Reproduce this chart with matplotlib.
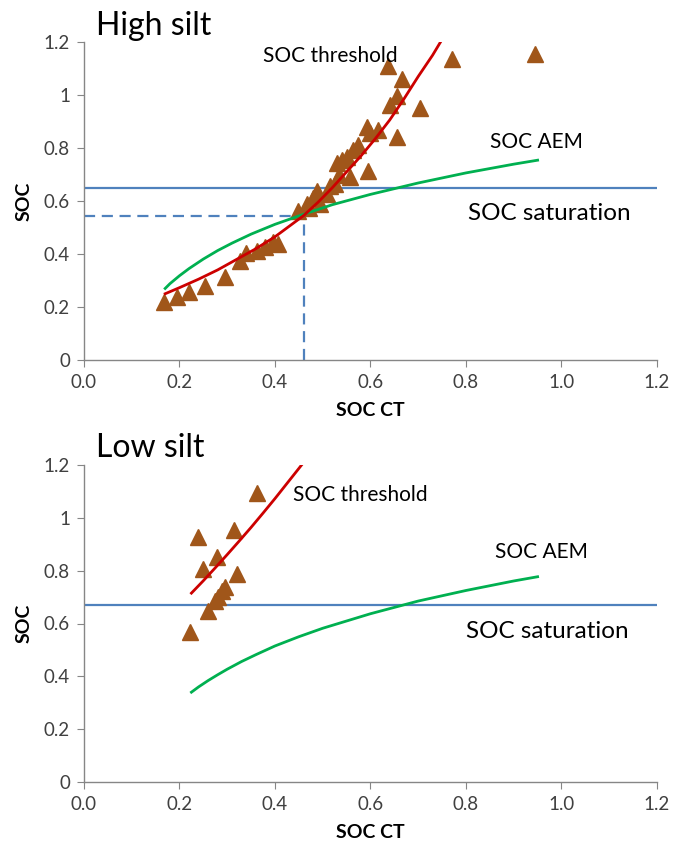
import matplotlib
matplotlib.use("Agg")
import matplotlib.pyplot as plt

plt.rcParams['font.family'] = ['Lato', 'DejaVu Sans']

# high silt data
hi_x = [0.168, 0.194, 0.22, 0.253, 0.295, 0.327, 0.34, 0.362, 0.379, 0.406, 0.396,
        0.448, 0.466, 0.48, 0.488, 0.494, 0.508, 0.526, 0.529, 0.54, 0.55, 0.557,
        0.564, 0.574, 0.592, 0.595, 0.599, 0.616, 0.655, 0.641, 0.655, 0.665,
        0.704, 0.637, 0.77, 0.944, 0.472, 0.515, 0.535]
hi_y = [0.218, 0.237, 0.256, 0.279, 0.314, 0.375, 0.403, 0.41, 0.428, 0.436, 0.447,
        0.562, 0.589, 0.612, 0.639, 0.589, 0.627, 0.665, 0.742, 0.753, 0.766, 0.69,
        0.792, 0.81, 0.88, 0.715, 0.856, 0.868, 0.842, 0.964, 0.995, 1.059,
        0.952, 1.11, 1.136, 1.155, 0.575, 0.655, 0.70]

hi_thr_x = [0.17, 0.20, 0.24, 0.28, 0.32, 0.36, 0.40, 0.43, 0.46, 0.49, 0.52, 0.55,
            0.58, 0.61, 0.64, 0.67, 0.70, 0.73, 0.75]
hi_thr_y = [0.25, 0.273, 0.305, 0.34, 0.38, 0.42, 0.465, 0.505, 0.545, 0.595, 0.65, 0.71,
            0.77, 0.835, 0.905, 0.985, 1.07, 1.15, 1.21]

hi_aem_x = [0.17, 0.18, 0.19, 0.20, 0.22, 0.25, 0.28, 0.31, 0.35, 0.40, 0.46, 0.52,
            0.60, 0.70, 0.80, 0.90, 0.95]
hi_aem_y = [0.27, 0.288, 0.303, 0.318, 0.345, 0.381, 0.413, 0.441, 0.475, 0.512, 0.55,
            0.586, 0.625, 0.668, 0.706, 0.739, 0.754]

hi_sat = 0.65
hi_cross_x = 0.46
hi_cross_y = 0.545

# low silt data
lo_x = [0.223, 0.238, 0.25, 0.26, 0.278, 0.274, 0.288, 0.295, 0.314, 0.321, 0.362, 0.281]
lo_y = [0.568, 0.926, 0.807, 0.647, 0.852, 0.686, 0.724, 0.737, 0.954, 0.787, 1.094, 0.699]

lo_thr_x = [0.225, 0.25, 0.275, 0.30, 0.325, 0.35, 0.375, 0.40, 0.425, 0.45, 0.46]
lo_thr_y = [0.715, 0.762, 0.811, 0.861, 0.912, 0.964, 1.018, 1.073, 1.13, 1.187, 1.21]

lo_aem_x = [0.225, 0.24, 0.26, 0.28, 0.30, 0.33, 0.36, 0.40, 0.45, 0.50, 0.60, 0.70,
            0.80, 0.90, 0.95]
lo_aem_y = [0.34, 0.36, 0.384, 0.406, 0.427, 0.456, 0.482, 0.515, 0.55, 0.582, 0.637,
            0.685, 0.725, 0.761, 0.777]

lo_sat = 0.67

xticks = [0.0, 0.2, 0.4, 0.6, 0.8, 1.0, 1.2]
xlabels = ['0.0', '0.2', '0.4', '0.6', '0.8', '1.0', '1.2']
yticks = [0, 0.2, 0.4, 0.6, 0.8, 1.0, 1.2]
ylabels = ['0', '0.2', '0.4', '0.6', '0.8', '1', '1.2']

brown = '#A0561A'
red = '#CC0000'
green = '#00B050'
blue = '#4F81BD'
grey = '#868686'

fig = plt.figure(figsize=(6.73, 8.48), dpi=100)
ax1 = fig.add_axes([0.1248, 1 - 360 / 848, 0.8514, 318 / 848])
ax2 = fig.add_axes([0.1248, 1 - 782 / 848, 0.8514, 317 / 848])


def style(ax):
    ax.set_xlim(0, 1.2)
    ax.set_ylim(0, 1.2)
    ax.set_xticks(xticks)
    ax.set_xticklabels(xlabels)
    ax.set_yticks(yticks)
    ax.set_yticklabels(ylabels)
    for s in ['top', 'right']:
        ax.spines[s].set_visible(False)
    for s in ['left', 'bottom']:
        ax.spines[s].set_color(grey)
        ax.spines[s].set_linewidth(1.0)
    ax.tick_params(direction='out', length=5, color=grey, labelsize=13.5,
                   labelcolor='#404040', pad=5)
    ax.set_xlabel('SOC CT', fontsize=14, fontweight='bold', labelpad=8)
    ax.set_ylabel('SOC', fontsize=14, fontweight='bold', labelpad=8)


# top panel
ax = ax1
style(ax)
ax.axhline(hi_sat, color=blue, lw=1.6, zorder=2)
ax.plot([0, hi_cross_x], [hi_cross_y, hi_cross_y], color=blue, lw=1.6, ls=(0, (5, 3)), zorder=2)
ax.plot([hi_cross_x, hi_cross_x], [0, hi_cross_y], color=blue, lw=1.6, ls=(0, (5, 3)), zorder=2)
ax.plot(hi_x, hi_y, ls='none', marker='^', ms=11, color=brown, zorder=3)
ax.plot(hi_aem_x, hi_aem_y, color=green, lw=2.0, zorder=4)
ax.plot(hi_thr_x, hi_thr_y, color=red, lw=2.0, zorder=4)
ax.text(0.375, 1.147, 'SOC threshold', fontsize=15, va='center', ha='left')
ax.text(0.85, 0.822, 'SOC AEM', fontsize=15, va='center', ha='left')
ax.text(0.805, 0.554, 'SOC saturation', fontsize=17.5, va='center', ha='left')
fig.text(96 / 673, 1 - 35 / 848, 'High silt', fontsize=23, ha='left', va='baseline')

# bottom panel
ax = ax2
style(ax)
ax.axhline(lo_sat, color=blue, lw=1.6, zorder=2)
ax.plot(lo_x, lo_y, ls='none', marker='^', ms=11, color=brown, zorder=3)
ax.plot(lo_aem_x, lo_aem_y, color=green, lw=2.0, zorder=4)
ax.plot(lo_thr_x, lo_thr_y, color=red, lw=2.0, zorder=4)
ax.text(0.438, 1.088, 'SOC threshold', fontsize=15, va='center', ha='left')
ax.text(0.86, 0.87, 'SOC AEM', fontsize=15, va='center', ha='left')
ax.text(0.80, 0.571, 'SOC saturation', fontsize=17.5, va='center', ha='left')
fig.text(96 / 673, 1 - 457 / 848, 'Low silt', fontsize=23, ha='left', va='baseline')

fig.savefig('out.png', dpi=100)
